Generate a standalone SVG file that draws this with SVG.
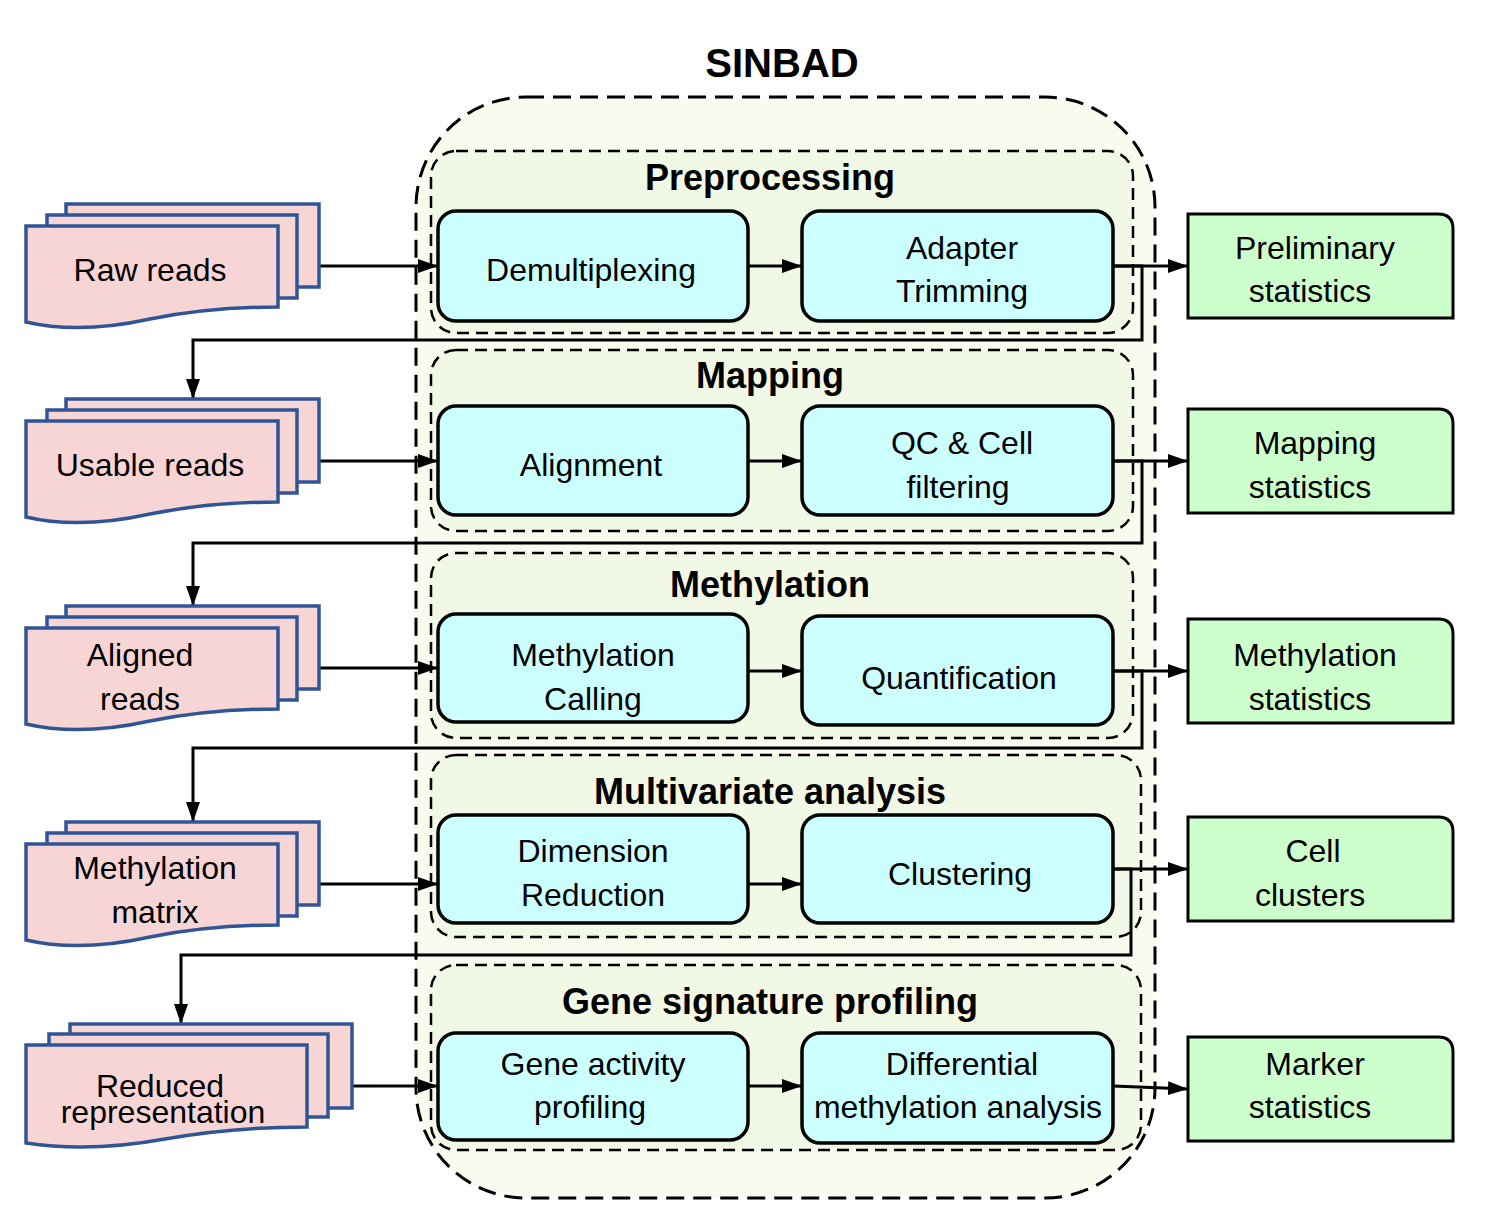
<svg xmlns="http://www.w3.org/2000/svg" xmlns:xlink="http://www.w3.org/1999/xlink" width="1494" height="1217" viewBox="0 0 1494 1217">
<style>
.doc{fill:#f8d5d5;stroke:#2f5597;stroke-width:3.5;stroke-linejoin:miter}
.proc{fill:#ccffff;stroke:#000;stroke-width:3.5}
.out{fill:#ccffcc;stroke:#000;stroke-width:3}
.sec{fill:#f2f8e6;stroke:#000;stroke-width:2.5;stroke-dasharray:12 7}
.outer{fill:#fafaef;stroke:#000;stroke-width:3;stroke-dasharray:18 9}
.conn{stroke:#000;stroke-width:3;fill:none}
.lbl{font-family:"Liberation Sans",Arial,sans-serif;font-size:32px;text-anchor:middle;fill:#000}
.ttl{font-family:"Liberation Sans",Arial,sans-serif;font-size:36px;font-weight:bold;text-anchor:middle;fill:#000}
</style>
<defs>
<marker id="arr" markerUnits="userSpaceOnUse" markerWidth="20" markerHeight="14" viewBox="0 0 20 14" refX="20" refY="7" orient="auto">
<path d="M0,0 L20,7 L0,14 Z" fill="#000"/>
</marker>
<g id="docstack">
<rect class="doc" x="66" y="204" width="253" height="83"/>
<rect class="doc" x="47" y="215" width="250" height="83"/>
<path class="doc" d="M26,226 H278 V307 C240,307 200,309 150,319 C100,330 60,330 26,322 Z"/>
</g>
<path id="outbox" class="out" d="M0,0 H250 Q265,0 265,15 V104 H0 Z"/>
</defs>

<g id="sinbad-container">
<rect class="outer" x="416" y="97" width="739" height="1101" rx="110"/>
<text class="ttl" x="782" y="77" font-size="40" style="font-size:40px">SINBAD</text>
</g>

<g id="sec-preprocessing">
<rect class="sec" x="431" y="151" width="702" height="182" rx="25"/>
<text class="ttl" x="770" y="190">Preprocessing</text>
</g>
<g id="sec-mapping">
<rect class="sec" x="431" y="350" width="702" height="181" rx="25"/>
<text class="ttl" x="770" y="388">Mapping</text>
</g>
<g id="sec-methylation">
<rect class="sec" x="431" y="553" width="702" height="185" rx="25"/>
<text class="ttl" x="770" y="597">Methylation</text>
</g>
<g id="sec-multivariate">
<rect class="sec" x="431" y="755" width="710" height="182" rx="25"/>
<text class="ttl" x="770" y="804">Multivariate analysis</text>
</g>
<g id="sec-gene-signature">
<rect class="sec" x="431" y="965" width="710" height="185" rx="25"/>
<text class="ttl" x="770" y="1014">Gene signature profiling</text>
</g>

<g id="connectors">
<line class="conn" x1="318" y1="266" x2="438" y2="266" marker-end="url(#arr)"/>
<line class="conn" x1="748" y1="266" x2="802" y2="266" marker-end="url(#arr)"/>
<line class="conn" x1="1113" y1="266" x2="1188" y2="266" marker-end="url(#arr)"/>
<polyline class="conn" points="1113,266 1142,266 1142,340 193,340 193,399" marker-end="url(#arr)"/>

<line class="conn" x1="318" y1="461" x2="438" y2="461" marker-end="url(#arr)"/>
<line class="conn" x1="748" y1="461" x2="802" y2="461" marker-end="url(#arr)"/>
<line class="conn" x1="1113" y1="461" x2="1188" y2="461" marker-end="url(#arr)"/>
<polyline class="conn" points="1113,461 1142,461 1142,543 193,543 193,606" marker-end="url(#arr)"/>

<line class="conn" x1="318" y1="668" x2="438" y2="668" marker-end="url(#arr)"/>
<line class="conn" x1="748" y1="671" x2="802" y2="671" marker-end="url(#arr)"/>
<line class="conn" x1="1113" y1="671" x2="1188" y2="671" marker-end="url(#arr)"/>
<polyline class="conn" points="1113,671 1142,671 1142,748 193,748 193,822" marker-end="url(#arr)"/>

<line class="conn" x1="318" y1="884" x2="438" y2="884" marker-end="url(#arr)"/>
<line class="conn" x1="748" y1="884" x2="802" y2="884" marker-end="url(#arr)"/>
<line class="conn" x1="1113" y1="869" x2="1188" y2="869" marker-end="url(#arr)"/>
<polyline class="conn" points="1113,869 1131,869 1131,955 181,955 181,1024" marker-end="url(#arr)"/>

<line class="conn" x1="352" y1="1086" x2="438" y2="1086" marker-end="url(#arr)"/>
<line class="conn" x1="748" y1="1086" x2="802" y2="1086" marker-end="url(#arr)"/>
<line class="conn" x1="1113" y1="1086" x2="1188" y2="1089" marker-end="url(#arr)"/>
</g>

<g id="raw-reads">
<use xlink:href="#docstack"/>
<text class="lbl" x="150" y="281">Raw reads</text>
</g>
<g id="usable-reads">
<use xlink:href="#docstack" y="195"/>
<text class="lbl" x="150" y="476">Usable reads</text>
</g>
<g id="aligned-reads">
<use xlink:href="#docstack" y="402"/>
<text class="lbl" x="140" y="666">Aligned</text>
<text class="lbl" x="140" y="710">reads</text>
</g>
<g id="methylation-matrix">
<use xlink:href="#docstack" y="618"/>
<text class="lbl" x="155" y="879">Methylation</text>
<text class="lbl" x="155" y="923">matrix</text>
</g>
<g id="reduced-representation">
<rect class="doc" x="70" y="1024" width="282" height="84"/>
<rect class="doc" x="49" y="1034" width="279" height="83"/>
<path class="doc" d="M26,1045 H307 V1127 C265,1127 220,1129 165,1139 C110,1149 65,1149 26,1143 Z"/>
<text class="lbl" x="160" y="1097">Reduced</text>
<text class="lbl" x="163" y="1123">representation</text>
</g>

<g id="demultiplexing">
<rect class="proc" x="438" y="211" width="310" height="110" rx="18"/>
<text class="lbl" x="591" y="281">Demultiplexing</text>
</g>
<g id="adapter-trimming">
<rect class="proc" x="802" y="211" width="311" height="110" rx="18"/>
<text class="lbl" x="962" y="259">Adapter</text>
<text class="lbl" x="962" y="302">Trimming</text>
</g>
<g id="alignment">
<rect class="proc" x="438" y="406" width="310" height="109" rx="18"/>
<text class="lbl" x="591" y="476">Alignment</text>
</g>
<g id="qc-cell-filtering">
<rect class="proc" x="802" y="406" width="311" height="109" rx="18"/>
<text class="lbl" x="962" y="454">QC &amp; Cell</text>
<text class="lbl" x="958" y="498">filtering</text>
</g>
<g id="methylation-calling">
<rect class="proc" x="438" y="614" width="310" height="108" rx="18"/>
<text class="lbl" x="593" y="666">Methylation</text>
<text class="lbl" x="593" y="710">Calling</text>
</g>
<g id="quantification">
<rect class="proc" x="802" y="616" width="311" height="109" rx="18"/>
<text class="lbl" x="959" y="689">Quantification</text>
</g>
<g id="dimension-reduction">
<rect class="proc" x="438" y="815" width="310" height="108" rx="18"/>
<text class="lbl" x="593" y="862">Dimension</text>
<text class="lbl" x="593" y="906">Reduction</text>
</g>
<g id="clustering">
<rect class="proc" x="802" y="815" width="311" height="108" rx="18"/>
<text class="lbl" x="960" y="885">Clustering</text>
</g>
<g id="gene-activity-profiling">
<rect class="proc" x="438" y="1033" width="310" height="107" rx="18"/>
<text class="lbl" x="593" y="1075">Gene activity</text>
<text class="lbl" x="590" y="1118">profiling</text>
</g>
<g id="differential-methylation-analysis">
<rect class="proc" x="802" y="1033" width="311" height="110" rx="18"/>
<text class="lbl" x="962" y="1075">Differential</text>
<text class="lbl" x="958" y="1118">methylation analysis</text>
</g>

<g id="preliminary-statistics">
<use xlink:href="#outbox" x="1188" y="214"/>
<text class="lbl" x="1315" y="259">Preliminary</text>
<text class="lbl" x="1310" y="302">statistics</text>
</g>
<g id="mapping-statistics">
<use xlink:href="#outbox" x="1188" y="409"/>
<text class="lbl" x="1315" y="454">Mapping</text>
<text class="lbl" x="1310" y="498">statistics</text>
</g>
<g id="methylation-statistics">
<use xlink:href="#outbox" x="1188" y="619"/>
<text class="lbl" x="1315" y="666">Methylation</text>
<text class="lbl" x="1310" y="710">statistics</text>
</g>
<g id="cell-clusters">
<use xlink:href="#outbox" x="1188" y="817"/>
<text class="lbl" x="1313" y="862">Cell</text>
<text class="lbl" x="1310" y="906">clusters</text>
</g>
<g id="marker-statistics">
<use xlink:href="#outbox" x="1188" y="1037"/>
<text class="lbl" x="1315" y="1075">Marker</text>
<text class="lbl" x="1310" y="1118">statistics</text>
</g>
</svg>
